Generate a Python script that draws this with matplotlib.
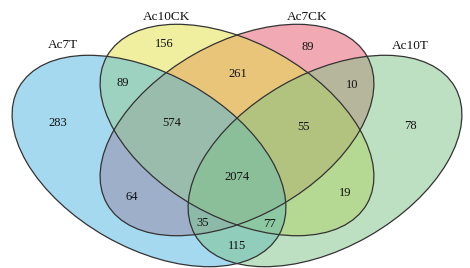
import matplotlib
matplotlib.use("Agg")
import matplotlib.pyplot as plt
from matplotlib.patches import Ellipse

# set names and colours
sets = ["Ac7T", "Ac10CK", "Ac7CK", "Ac10T"]
colors = ["#4DB5E1", "#E1E141", "#E55569", "#7DC387"]

# region membership (Ac7T, Ac10CK, Ac7CK, Ac10T) and counts
regions = ["1000", "0100", "0010", "0001",
           "1100", "0110", "0011", "1010", "0101", "1001",
           "1110", "0111", "1011", "1101",
           "1111"]
counts = [283, 156, 89, 78,
          89, 261, 10, 64, 19, 115,
          574, 55, 35, 77,
          2074]

# layout (pixel coordinates, y down)
centers = [(149, 161), (237, 130), (237, 130), (325, 161)]
angles = [29.6, 29.6, -29.6, -29.6]
ell_w, ell_h = 299, 174
draw_order = [2, 1, 0, 3]
set_label_pos = [(63, 45), (167, 17), (307, 17), (410, 46)]
region_pos = {
    "1000": (58, 123), "0100": (164, 44), "0010": (308, 47), "0001": (410, 126),
    "1100": (123, 83), "0110": (238, 74), "0011": (352, 85), "1010": (132, 197),
    "0101": (345, 193), "1001": (237, 246),
    "1110": (172, 123), "0111": (303, 127), "1011": (203, 223), "1101": (269, 224),
    "1111": (237, 177),
}

plt.rcParams["font.family"] = ["Liberation Serif", "DejaVu Serif"]

fig = plt.figure(figsize=(4.7, 2.68), dpi=100)
ax = fig.add_axes([0, 0, 1, 1])
ax.set_xlim(0, 470)
ax.set_ylim(268, 0)
ax.axis("off")

# fills first, then outlines on top
for i in draw_order:
    ax.add_patch(Ellipse(centers[i], ell_w, ell_h, angle=angles[i],
                         facecolor=colors[i], edgecolor="none", alpha=0.5))
for i in draw_order:
    ax.add_patch(Ellipse(centers[i], ell_w, ell_h, angle=angles[i],
                         facecolor="none", edgecolor="#333333", lw=0.9))

for name, (x, y) in zip(sets, set_label_pos):
    ax.text(x, y, name, ha="center", va="center", fontsize=9.5, color="#111111")

for reg, n in zip(regions, counts):
    x, y = region_pos[reg]
    ax.text(x, y, str(n), ha="center", va="center", fontsize=9, color="#111111")

fig.savefig("out.png", dpi=100)
